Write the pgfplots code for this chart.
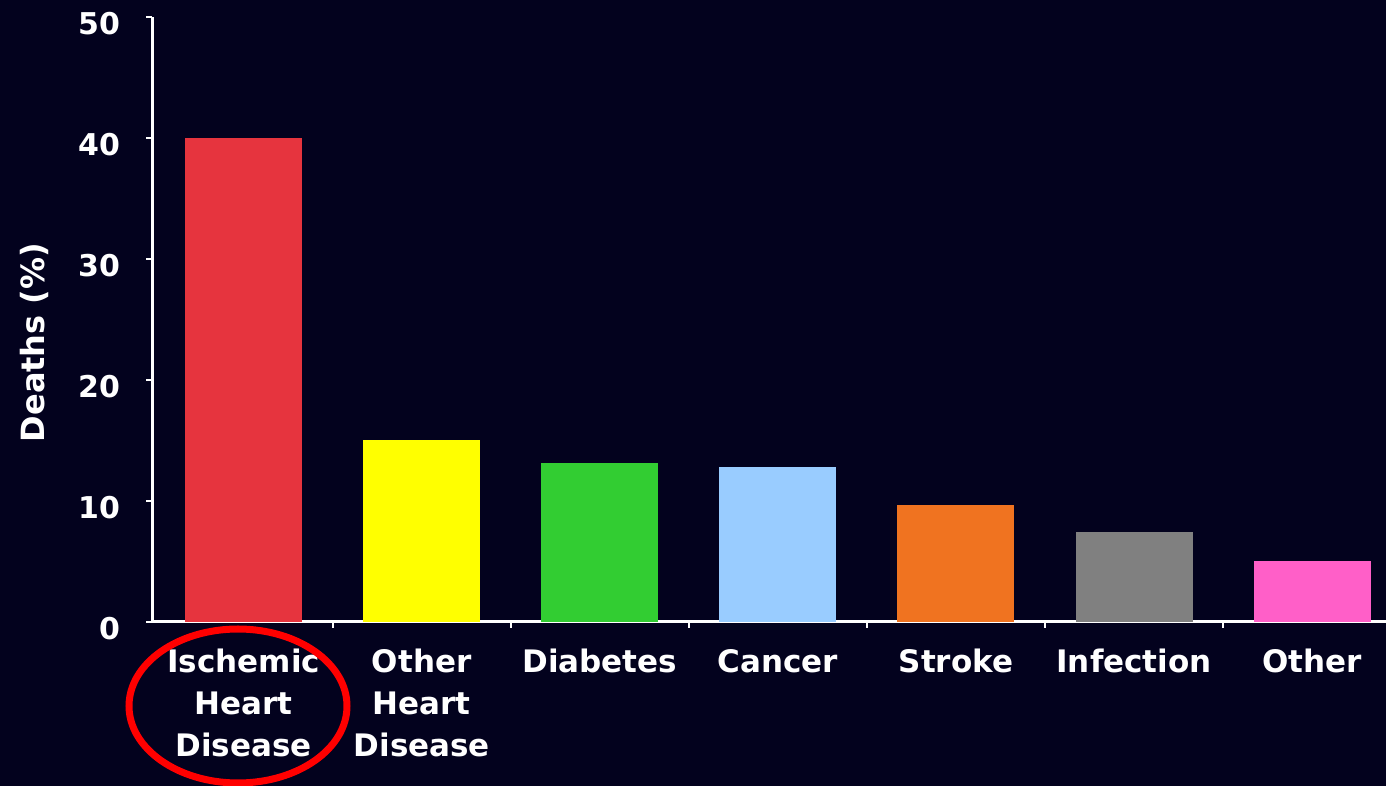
\documentclass[border=0pt]{standalone}
\usepackage{pgfplots}
\pgfplotsset{compat=1.18}
\usepackage{fontspec}
\setmainfont{DejaVu Sans}
\definecolor{bg}{RGB}{3,2,30}
\definecolor{cRed}{RGB}{230,52,62}
\definecolor{cYellow}{RGB}{255,255,0}
\definecolor{cGreen}{RGB}{50,205,50}
\definecolor{cBlue}{RGB}{153,204,255}
\definecolor{cOrange}{RGB}{240,115,32}
\definecolor{cGray}{RGB}{128,128,128}
\definecolor{cPink}{RGB}{255,95,200}
\begin{document}
\begin{tikzpicture}
\fill[bg] (0,0) rectangle (693pt,393pt);
\begin{axis}[
  at={(76pt,82pt)}, anchor=south west,
  scale only axis, width=617pt, height=302.5pt,
  xmin=-0.515, xmax=6.415, ymin=0, ymax=50,
  enlargelimits=false,
  axis lines*=left,
  axis line style={white, line width=1.5pt},
  ybar, bar width=58.5pt, bar shift=0pt,
  ytick={0,10,...,50},
  xtick={0,1,2,3,4,5,6},
  xticklabels={{Ischemic\\Heart\\Disease},{Other\\Heart\\Disease},Diabetes,Cancer,Stroke,Infection,Other},
  minor xtick={0.5,1.5,...,6.5},
  tick align=outside,
  major tick length=3pt, minor tick length=3pt,
  major x tick style={draw=none},
  ytick style={white, line width=1pt},
  minor x tick style={white, line width=1pt},
  /pgf/number format/assume math mode=true,
  yticklabel style={font=\bfseries\fontsize{15pt}{17pt}\selectfont, text=white, yshift=-3.5pt, xshift=-9.5pt},
  xticklabel style={font=\bfseries\fontsize{15.5pt}{21pt}\selectfont, text=white, align=center, yshift=-7pt},
  ylabel={Deaths (\%)},
  ylabel style={font=\bfseries\fontsize{16pt}{18pt}\selectfont, text=white, at={(axis description cs:-0.095,0.462)}, anchor=center},
]
\addplot[fill=cRed, draw=none] coordinates {(0,40)};
\addplot[fill=cYellow, draw=none] coordinates {(1,15.0)};
\addplot[fill=cGreen, draw=none] coordinates {(2,13.1)};
\addplot[fill=cBlue, draw=none] coordinates {(3,12.8)};
\addplot[fill=cOrange, draw=none] coordinates {(4,9.7)};
\addplot[fill=cGray, draw=none] coordinates {(5,7.4)};
\addplot[fill=cPink, draw=none] coordinates {(6,5.0)};
\end{axis}
\draw[red, line width=3.5pt] (119pt,40pt) ellipse [x radius=54.5pt, y radius=38.5pt];
\pgfresetboundingbox
\useasboundingbox (0,0) rectangle (693pt,393pt);
\end{tikzpicture}
\end{document}
